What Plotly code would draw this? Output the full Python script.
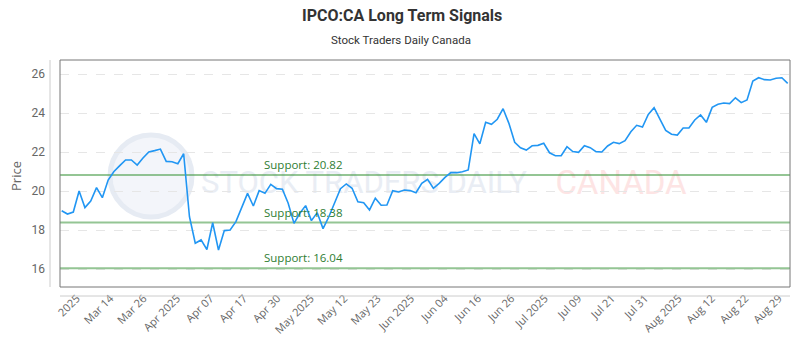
import plotly.graph_objects as go

# ---- data ----
prices = [18.99, 18.82, 18.92, 20.00, 19.15, 19.49, 20.17, 19.66, 20.56, 21.00,
          21.30, 21.59, 21.59, 21.33, 21.69, 22.00, 22.07, 22.15, 21.52, 21.50,
          21.40, 21.91, 18.68, 17.32, 17.49, 17.00, 18.37, 16.97, 17.97, 18.00,
          18.43, 19.11, 19.88, 19.23, 20.02, 19.88, 20.34, 20.12, 20.09, 19.37,
          18.34, 18.86, 19.25, 18.48, 18.89, 18.07, 18.68, 19.40, 20.12, 20.36,
          20.14, 19.45, 19.40, 19.03, 19.63, 19.27, 19.28, 20.02, 19.95, 20.05,
          20.02, 19.91, 20.39, 20.60, 20.14, 20.39, 20.70, 20.94, 20.94, 20.99,
          21.08, 22.94, 22.42, 23.52, 23.42, 23.68, 24.22, 23.47, 22.50, 22.22,
          22.10, 22.32, 22.34, 22.45, 21.96, 21.81, 21.81, 22.27, 22.02, 21.98,
          22.32, 22.22, 22.02, 22.00, 22.31, 22.50, 22.43, 22.58, 23.04, 23.37,
          23.28, 23.93, 24.27, 23.69, 23.11, 22.91, 22.87, 23.23, 23.23, 23.64,
          23.90, 23.52, 24.29, 24.45, 24.51, 24.48, 24.78, 24.53, 24.67, 25.64,
          25.81, 25.71, 25.69, 25.78, 25.81, 25.52]
x_idx = list(range(len(prices)))

tick_labels = ["2025", "Mar 14", "Mar 26", "Apr 2025", "Apr 07", "Apr 17", "Apr 30",
               "May 2025", "May 12", "May 23", "Jun 2025", "Jun 04", "Jun 16", "Jun 26",
               "Jul 2025", "Jul 09", "Jul 21", "Jul 31", "Aug 2025", "Aug 12",
               "Aug 22", "Aug 29"]
tick_positions = [2.60, 8.36, 14.11, 19.87, 25.62, 31.38, 37.14, 42.89, 48.65, 54.40,
                  60.16, 65.92, 71.67, 77.43, 83.18, 88.94, 94.70, 100.45, 106.21,
                  111.96, 117.72, 123.48]

support_levels = [20.82, 18.38, 16.04]
support_labels = ["Support: 20.82", "Support: 18.38", "Support: 16.04"]

title_text = "IPCO:CA Long Term Signals"
subtitle_text = "Stock Traders Daily Canada"

# ---- figure ----
fig = go.Figure()

for lvl in support_levels:
    fig.add_trace(go.Scatter(
        x=[-0.29, 125.4], y=[lvl, lvl], mode="lines",
        line=dict(color="rgba(60,150,60,0.55)", width=2),
        hoverinfo="skip", showlegend=False))

fig.add_trace(go.Scatter(
    x=x_idx, y=prices, mode="lines",
    line=dict(color="#2196f3", width=1.6),
    showlegend=False, name="Price"))

annotations = []
for lvl, txt in zip(support_levels, support_labels):
    annotations.append(dict(
        x=34.47, y=lvl, xref="x", yref="y", text=txt, showarrow=False,
        xanchor="left", yanchor="bottom", yshift=1,
        font=dict(family="Open Sans", size=11.5, color="#2e7d32")))

annotations.append(dict(
    x=(402 - 60) / 730, y=(287 - 15) / 227, xref="paper", yref="paper",
    text=f"<b>{title_text}</b>",
    showarrow=False, xanchor="center", yanchor="middle",
    font=dict(family="Roboto", size=16, color="#333333")))
annotations.append(dict(
    x=(401 - 60) / 730, y=(287 - 40) / 227, xref="paper", yref="paper", text=subtitle_text,
    showarrow=False, xanchor="center", yanchor="middle",
    font=dict(family="Roboto", size=11.5, color="#333333")))
annotations.append(dict(
    x=(16 - 60) / 730, y=(287 - 176) / 227, xref="paper", yref="paper", text="Price",
    showarrow=False, textangle=-90, xanchor="center", yanchor="middle",
    font=dict(family="Open Sans", size=13, color="#666666")))

shapes = [
    # watermark logo circle
    dict(type="circle", xref="paper", yref="paper", layer="below",
         x0=(110 - 60) / 730, x1=(192 - 60) / 730,
         y0=(287 - 217) / 227, y1=(287 - 135) / 227,
         fillcolor="#f3f5fa", line=dict(color="#e6ebf3", width=5)),
    # watermark text
    dict(type="rect", xref="paper", yref="paper", layer="below",
         x0=(200 - 60) / 730, x1=(528 - 60) / 730,
         y0=(287 - 200) / 227, y1=(287 - 160) / 227,
         line=dict(width=0), fillcolor="rgba(0,0,0,0)",
         label=dict(text="STOCK TRADERS DAILY", textposition="middle center",
                    font=dict(family="Roboto", size=31, color="#e9edf4"))),
    dict(type="rect", xref="paper", yref="paper", layer="below",
         x0=(544 - 60) / 730, x1=(698 - 60) / 730,
         y0=(287 - 200) / 227, y1=(287 - 160) / 227,
         line=dict(width=0), fillcolor="rgba(0,0,0,0)",
         label=dict(text="CANADA", textposition="middle center",
                    font=dict(family="Roboto", size=33, color="#fde4e4"))),
    # plot border
    dict(type="rect", xref="paper", yref="paper", x0=0, x1=1, y0=0, y1=1,
         line=dict(color="#777777", width=1), fillcolor="rgba(0,0,0,0)"),
    # offset axis lines
    dict(type="line", xref="paper", yref="paper",
         x0=(50 - 60) / 730, x1=(50 - 60) / 730, y0=0, y1=1,
         line=dict(color="#cccccc", width=1)),
    dict(type="line", xref="paper", yref="paper",
         x0=0, x1=1, y0=-(296 - 287) / 227, y1=-(296 - 287) / 227,
         line=dict(color="#cccccc", width=1)),
]

fig.update_layout(
    width=800, height=350,
    margin=dict(l=60, r=10, t=60, b=63),
    paper_bgcolor="white", plot_bgcolor="white",
    annotations=annotations, shapes=shapes,
    xaxis=dict(range=[-0.29, 125.4], tickmode="array", tickvals=tick_positions,
               ticktext=tick_labels, tickangle=-45, showgrid=False, zeroline=False,
               showline=False, ticks="", ticklabelstandoff=2,
               tickfont=dict(family="Open Sans", size=11, color="#666666")),
    yaxis=dict(range=[15.077, 26.718], tickmode="array", tickvals=[16, 18, 20, 22, 24, 26],
               showgrid=True, gridcolor="#e6e6e6", griddash="dash", gridwidth=1,
               zeroline=False, showline=False, ticks="", ticklabelstandoff=14,
               tickfont=dict(family="Roboto", size=12, color="#666666")),
    hovermode=False,
)

fig.write_html("out.html")
